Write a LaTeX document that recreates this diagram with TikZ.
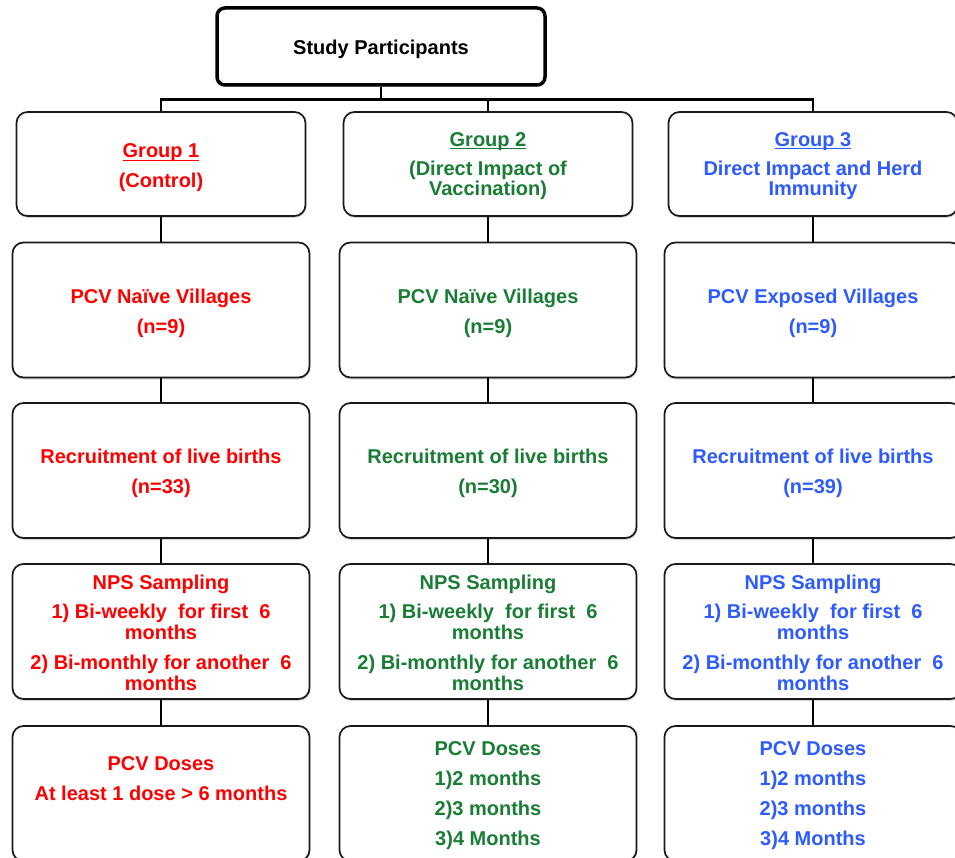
\documentclass[tikz,border=0pt]{standalone}
\usepackage{fontspec}
\setmainfont{Liberation Sans}
\usetikzlibrary{shadows}
\definecolor{cred}{RGB}{255,0,0}
\definecolor{cgreen}{RGB}{26,125,54}
\definecolor{cblue}{RGB}{45,91,255}
\newcommand{\grpul}[1]{\setbox0\hbox{#1}\leavevmode\rlap{\rule[-3pt]{\wd0}{1.2pt}}\box0}
\begin{document}
\begin{tikzpicture}[x=1pt,y=-1pt,
  txt/.style={align=center, inner sep=0pt, font=\bfseries\fontsize{20}{20.5}\selectfont},
  box/.style={draw=black!90, line width=1.7pt, rounded corners=11pt, fill=white,
    minimum width=297pt, minimum height=135pt, inner sep=0pt,
    drop shadow={shadow xshift=0.6pt, shadow yshift=-2pt, opacity=0.3}},
  gbox/.style={box, minimum width=289pt, minimum height=104pt},
  topbox/.style={box, draw=black, line width=3.5pt, rounded corners=8pt,
    minimum width=328pt, minimum height=77pt},
  conn/.style={line width=2.8pt, draw=black},
  redt/.style={txt, text=cred},
  greent/.style={txt, text=cgreen},
  bluet/.style={txt, text=cblue}]
\clip (0,0) rectangle (955,858);
\fill[white] (0,0) rectangle (955,858);

% top
\node[topbox] (top) at (381,46.5) {};
\node[txt] (topt) at ([yshift=-3pt]top.center) {Study Participants};

% row 1
\node[gbox] (g1) at (161,164) {};
\node[gbox] (g2) at (488,164) {};
\node[gbox] (g3) at (813,164) {};
\node[redt] (g1t) at ([yshift=-4pt]g1.center) {\grpul{Group 1}\\[9.5pt](Control)};
\node[greent] (g2t) at ([yshift=-2pt]g2.center) {\grpul{Group 2}\\[8.5pt](Direct Impact of\\Vaccination)};
\node[bluet] (g3t) at ([yshift=-2pt]g3.center) {\grpul{Group 3}\\[8.5pt]Direct Impact and Herd\\Immunity};

% row 2
\node[box] (v1) at (161,310) {};
\node[box] (v2) at (488,310) {};
\node[box] (v3) at (813,310) {};
\node[redt] (v1t) at ([yshift=-3pt]v1.center) {PCV Naïve Villages\\[9.5pt](n=9)};
\node[greent] (v2t) at ([yshift=-3pt]v2.center) {PCV Naïve Villages\\[9.5pt](n=9)};
\node[bluet] (v3t) at ([yshift=-3pt]v3.center) {PCV Exposed Villages\\[9.5pt](n=9)};

% row 3
\node[box] (r1) at (161,470.5) {};
\node[box] (r2) at (488,470.5) {};
\node[box] (r3) at (813,470.5) {};
\node[redt] (r1t) at ([yshift=-3pt]r1.center) {Recruitment of live births\\[9.5pt](n=33)};
\node[greent] (r2t) at ([yshift=-3pt]r2.center) {Recruitment of live births\\[9.5pt](n=30)};
\node[bluet] (r3t) at ([yshift=-3pt]r3.center) {Recruitment of live births\\[9.5pt](n=39)};

% row 4
\node[box] (s1) at (161,631.5) {};
\node[box] (s2) at (488,631.5) {};
\node[box] (s3) at (813,631.5) {};
\node[redt] (s1t) at ([yshift=-1pt]s1.center) {NPS Sampling\\[9pt]1) Bi-weekly\ \ for first\ \ 6\\months\\[10pt]2) Bi-monthly for another\ \ 6\\months};
\node[greent] (s2t) at ([yshift=-1pt]s2.center) {NPS Sampling\\[9pt]1) Bi-weekly\ \ for first\ \ 6\\months\\[10pt]2) Bi-monthly for another\ \ 6\\months};
\node[bluet] (s3t) at ([yshift=-1pt]s3.center) {NPS Sampling\\[9pt]1) Bi-weekly\ \ for first\ \ 6\\months\\[10pt]2) Bi-monthly for another\ \ 6\\months};

% row 5
\node[box] (d1) at (161,793.5) {};
\node[box] (d2) at (488,793.5) {};
\node[box] (d3) at (813,793.5) {};
\node[redt] (d1t) at (161,779) {PCV Doses\\[9.5pt]At least 1 dose > 6 months};
\node[greent] (d2t) at ([yshift=-2pt]d2.center) {PCV Doses\\[9.5pt]1)2 months\\[9.5pt]2)3 months\\[9.5pt]3)4 Months};
\node[bluet] (d3t) at ([yshift=-2pt]d3.center) {PCV Doses\\[9.5pt]1)2 months\\[9.5pt]2)3 months\\[9.5pt]3)4 Months};

% connectors
\draw[conn] (top.south) -- ++(0,13) coordinate (bus) -| (g1.north);
\draw[conn] (bus) -| (g2.north);
\draw[conn] (bus) -| (g3.north);
\foreach \c in {1,2,3}{
  \draw[conn] (g\c.south) -- (v\c.north);
  \draw[conn] (v\c.south) -- (r\c.north);
  \draw[conn] (r\c.south) -- (s\c.north);
  \draw[conn] (s\c.south) -- (d\c.north);
}
\end{tikzpicture}
\end{document}
